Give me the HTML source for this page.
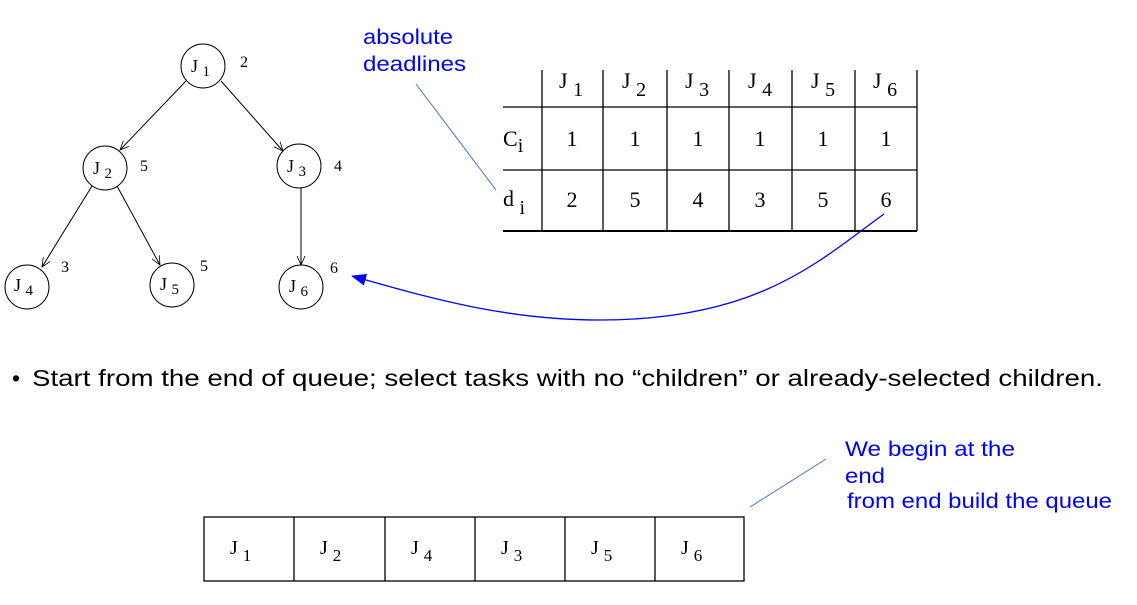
<!DOCTYPE html>
<html><head><style>
body{margin:0;background:#fff;width:1137px;height:600px;overflow:hidden}
svg text{font-family:"Liberation Serif",serif}
.s{font-family:"Liberation Sans",sans-serif}
</style></head><body>
<svg width="1137" height="600" xmlns="http://www.w3.org/2000/svg">
<defs>
<marker id="a" markerWidth="10" markerHeight="10" refX="9" refY="5" orient="auto" markerUnits="userSpaceOnUse"><path d="M0,1 L9,5 L0,9" fill="none" stroke="#000" stroke-width="0.8"/></marker>
<marker id="b" markerWidth="16" markerHeight="12" refX="14" refY="6" orient="auto" markerUnits="userSpaceOnUse"><path d="M0,0 L15,6 L0,12 Z" fill="#00f"/></marker>
</defs>
<g stroke="#000" stroke-width="1" fill="none">
<circle cx="203" cy="66" r="22"/>
<circle cx="105" cy="168" r="22"/>
<circle cx="299" cy="166" r="22"/>
<circle cx="27" cy="287" r="22"/>
<circle cx="172" cy="285" r="22"/>
<circle cx="301" cy="287" r="22"/>
<line x1="186" y1="81" x2="120" y2="150" marker-end="url(#a)"/>
<line x1="221" y1="81" x2="283" y2="151" marker-end="url(#a)"/>
<line x1="92" y1="186" x2="42" y2="267" marker-end="url(#a)"/>
<line x1="117" y1="186" x2="160" y2="265" marker-end="url(#a)"/>
<line x1="301" y1="188" x2="301" y2="265" marker-end="url(#a)"/>
</g>
<g font-size="18" fill="#000">
<text x="191" y="72">J <tspan font-size="15" dy="4">1</tspan></text>
<text x="93" y="174">J <tspan font-size="15" dy="4">2</tspan></text>
<text x="287" y="172">J <tspan font-size="15" dy="4">3</tspan></text>
<text x="14" y="291">J <tspan font-size="15" dy="4">4</tspan></text>
<text x="160" y="290">J <tspan font-size="15" dy="4">5</tspan></text>
<text x="289" y="292">J <tspan font-size="15" dy="4">6</tspan></text>
</g>
<g font-size="16" fill="#000">
<text x="240" y="67">2</text><text x="140" y="171">5</text><text x="334" y="171">4</text>
<text x="61" y="272">3</text><text x="200" y="271">5</text><text x="330" y="273">6</text>
</g>
<text class="s" x="363" y="44" font-size="21" fill="#00f" textLength="90" lengthAdjust="spacingAndGlyphs">absolute</text>
<text class="s" x="363" y="71" font-size="21" fill="#00f" textLength="103" lengthAdjust="spacingAndGlyphs">deadlines</text>
<line x1="416" y1="84" x2="496" y2="190" stroke="#4472c4" stroke-width="1"/>
<g stroke="#000" stroke-width="1.3">
<line x1="503" y1="107" x2="917" y2="107"/>
<line x1="503" y1="170" x2="917" y2="170"/>
<line x1="503" y1="231" x2="917" y2="231" stroke-width="2"/>
<line x1="542" y1="70" x2="542" y2="231"/>
<line x1="603" y1="70" x2="603" y2="231"/>
<line x1="667" y1="70" x2="667" y2="231"/>
<line x1="729" y1="70" x2="729" y2="231"/>
<line x1="792" y1="70" x2="792" y2="231"/>
<line x1="855" y1="70" x2="855" y2="231"/>
<line x1="917" y1="70" x2="917" y2="231"/>
</g>
<g font-size="22" fill="#000">
<text x="559" y="88">J <tspan font-size="20" dy="8">1</tspan></text>
<text x="622" y="88">J <tspan font-size="20" dy="8">2</tspan></text>
<text x="685" y="88">J <tspan font-size="20" dy="8">3</tspan></text>
<text x="748" y="88">J <tspan font-size="20" dy="8">4</tspan></text>
<text x="811" y="88">J <tspan font-size="20" dy="8">5</tspan></text>
<text x="873" y="88">J <tspan font-size="20" dy="8">6</tspan></text>
<text x="503" y="146">C<tspan font-size="20" dy="6">i</tspan></text>
<text x="503" y="206">d <tspan font-size="20" dy="8">i</tspan></text>
</g>
<g font-size="22" fill="#000" text-anchor="middle">
<text x="572" y="146">1</text><text x="635" y="146">1</text><text x="698" y="146">1</text><text x="760" y="146">1</text><text x="823" y="146">1</text><text x="886" y="146">1</text>
<text x="572" y="207">2</text><text x="635" y="207">5</text><text x="698" y="207">4</text><text x="760" y="207">3</text><text x="823" y="207">5</text><text x="886" y="207">6</text>
</g>
<path d="M884,214 C820,260 760,320 600,320 C500,320 420,295 352,276" fill="none" stroke="#00f" stroke-width="1.3" marker-end="url(#b)"/>
<text class="s" x="12" y="386" font-size="23" fill="#000">•</text>
<text class="s" x="32" y="386" font-size="23" fill="#000" textLength="1071" lengthAdjust="spacingAndGlyphs">Start from the end of queue; select tasks with no “children” or already-selected children.</text>
<text class="s" x="845" y="456" font-size="21" fill="#00f" textLength="170" lengthAdjust="spacingAndGlyphs">We begin at the</text>
<text class="s" x="845" y="483" font-size="21" fill="#00f" textLength="40" lengthAdjust="spacingAndGlyphs">end</text>
<text class="s" x="847" y="508" font-size="21" fill="#00f" textLength="265" lengthAdjust="spacingAndGlyphs">from end build the queue</text>
<line x1="750" y1="507" x2="826" y2="459" stroke="#4472c4" stroke-width="1"/>
<g stroke="#000" stroke-width="1.3" fill="none">
<rect x="204" y="517" width="540" height="64"/>
<line x1="294" y1="517" x2="294" y2="581"/><line x1="385" y1="517" x2="385" y2="581"/>
<line x1="475" y1="517" x2="475" y2="581"/><line x1="565" y1="517" x2="565" y2="581"/>
<line x1="655" y1="517" x2="655" y2="581"/>
</g>
<g font-size="20" fill="#000">
<text x="230" y="554">J <tspan font-size="17" dy="7">1</tspan></text>
<text x="320" y="554">J <tspan font-size="17" dy="7">2</tspan></text>
<text x="411" y="554">J <tspan font-size="17" dy="7">4</tspan></text>
<text x="501" y="554">J <tspan font-size="17" dy="7">3</tspan></text>
<text x="591" y="554">J <tspan font-size="17" dy="7">5</tspan></text>
<text x="681" y="554">J <tspan font-size="17" dy="7">6</tspan></text>
</g>
</svg>
</body></html>
